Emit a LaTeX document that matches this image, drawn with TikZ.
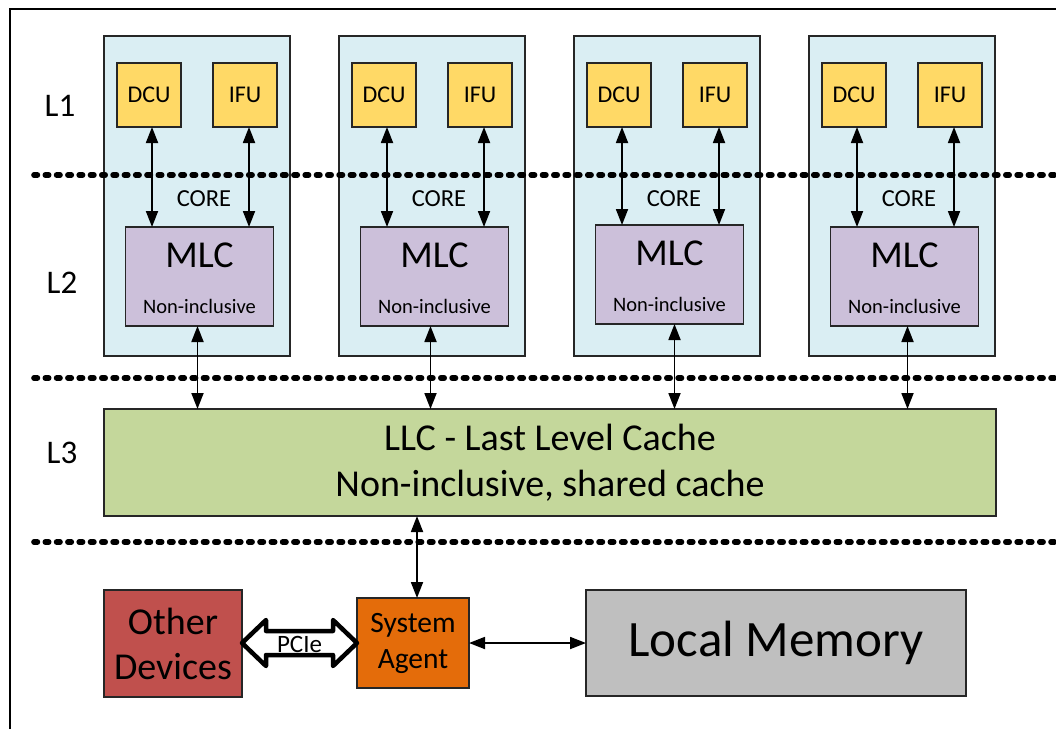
\documentclass[tikz,border=0pt]{standalone}
\usepackage{fontspec}
\setmainfont{Carlito}
\usetikzlibrary{arrows.meta,calc}
\definecolor{coreblue}{HTML}{DAEEF3}
\definecolor{unityellow}{HTML}{FFD966}
\definecolor{mlcpurple}{HTML}{CCC0DA}
\definecolor{llcgreen}{HTML}{C4D79B}
\definecolor{devred}{HTML}{C0504D}
\definecolor{saorange}{HTML}{E46C0A}
\definecolor{memgray}{HTML}{BFBFBF}
\tikzset{
  box/.style={draw=black!85, line width=1.3pt, rectangle, inner sep=0pt, outer sep=0pt, anchor=north west},
  corebox/.style={box, fill=coreblue, minimum width=186pt, minimum height=320pt},
  unitbox/.style={box, fill=unityellow, minimum width=64pt, minimum height=64pt, font=\fontsize{24}{28}\selectfont},
  mlcbox/.style={box, fill=mlcpurple, minimum width=148pt, minimum height=99pt},
  bigtxt/.style={font=\fontsize{38}{46}\selectfont, inner sep=0pt},
  smalltxt/.style={font=\fontsize{20.5}{24}\selectfont, inner sep=0pt},
  coretxt/.style={font=\fontsize{24.5}{28}\selectfont, inner sep=0pt},
  lvltxt/.style={font=\fontsize{33}{36}\selectfont, inner sep=0pt},
  dotline/.style={line width=5.6pt, line cap=round, dash pattern=on 3.4pt off 7.9pt},
  biarrow/.style={line width=1.8pt, {Triangle[length=16pt,width=12pt]}-{Triangle[length=16pt,width=12pt]}},
}
\begin{document}
\begin{tikzpicture}[x=1pt,y=-1pt]
\useasboundingbox (0,0) rectangle (1056,729);
% outer frame (top and left edges)
\coordinate (fbl) at (10,729);
\coordinate (ftl) at (10,9);
\coordinate (ftr) at (1056,9);
\draw[line width=2pt] (fbl) -- (ftl) -- (ftr);

% cores
\foreach \i/\x/\my in {1/104/227, 2/339/227, 3/574/225, 4/809/227}{
  \node[corebox] (core\i) at (\x,36) {};
  \node[unitbox] (dcu\i) at (\x+13,63) {DCU};
  \node[unitbox] (ifu\i) at (\x+109,63) {IFU};
  \node[mlcbox] (mlc\i) at (\x+21.5,\my) {};
  \node[bigtxt] (mlct\i) at ($(mlc\i.north)+(0,28)$) {MLC};
  \node[smalltxt] (mlcn\i) at ($(mlc\i.south)+(0,-20)$) {Non-inclusive};
  \node[coretxt] (coret\i) at (\x+100,199) {CORE};
}

% level labels
\node[lvltxt] (l1) at (60,106) {L1};
\node[lvltxt] (l2) at (62,283) {L2};
\node[lvltxt] (l3) at (62,453) {L3};

% dotted separators
\coordinate (d1a) at (34,175); \coordinate (d1b) at (1056,175);
\coordinate (d2a) at (34,378); \coordinate (d2b) at (1056,378);
\coordinate (d3a) at (34,542); \coordinate (d3b) at (1056,542);
\draw[dotline] (d1a) -- (d1b);
\draw[dotline] (d2a) -- (d2b);
\draw[dotline] (d3a) -- (d3b);

% LLC
\node[box, fill=llcgreen, minimum width=892pt, minimum height=107pt] (llc) at (104,409) {};
\node[bigtxt, align=center] (llct) at (llc.center) {LLC - Last Level Cache\\Non-inclusive, shared cache};

% core arrows
\foreach \i/\dx in {1/-2, 2/-4, 3/5, 4/3}{
  \draw[biarrow] ([xshift=3pt]dcu\i.south) -- ([xshift=3pt]dcu\i.south |- mlc\i.north);
  \draw[biarrow] ([xshift=4pt]ifu\i.south) -- ([xshift=4pt]ifu\i.south |- mlc\i.north);
  \draw[biarrow] ([xshift=\dx pt]mlc\i.south) -- ([xshift=\dx pt]mlc\i.south |- llc.north);
}

% bottom row
\node[box, fill=devred, minimum width=138pt, minimum height=107pt] (od) at (104,590) {};
\node[bigtxt, align=center, font=\fontsize{38}{45}\selectfont] (odt) at (od.center) {Other\\Devices};
\node[box, fill=saorange, minimum width=112pt, minimum height=90pt] (sa) at (357,598) {};
\node[bigtxt, align=center, font=\fontsize{29.5}{36}\selectfont] (sat) at (sa.center) {System\\Agent};
\node[box, fill=memgray, minimum width=380pt, minimum height=106pt] (lm) at (586,590) {};
\node[bigtxt, font=\fontsize{51}{56}\selectfont] (lmt) at (lm.center) {Local Memory};

\draw[biarrow] ([xshift=-133pt]llc.south) -- ([xshift=-133pt]llc.south |- sa.north);
\draw[biarrow] (sa.east) -- (sa.east -| lm.west);

% PCIe fat double arrow
\coordinate (pl) at (od.east |- sa.west);
\coordinate (pr) at (sa.west);
\draw[line width=4.5pt, line join=round, fill=white]
  (pl) -- ($(pl)+(24,-23)$) -- ($(pl)+(24,-12)$) -- ($(pr)+(-24,-12)$) -- ($(pr)+(-24,-23)$)
  -- (pr) -- ($(pr)+(-24,23)$) -- ($(pr)+(-24,12)$) -- ($(pl)+(24,12)$) -- ($(pl)+(24,23)$) -- cycle;
\node[font=\fontsize{25}{28}\selectfont, inner sep=0pt] (pcie) at ($(pl)!0.5!(pr)+(0,1)$) {PCIe};
\end{tikzpicture}
\end{document}
